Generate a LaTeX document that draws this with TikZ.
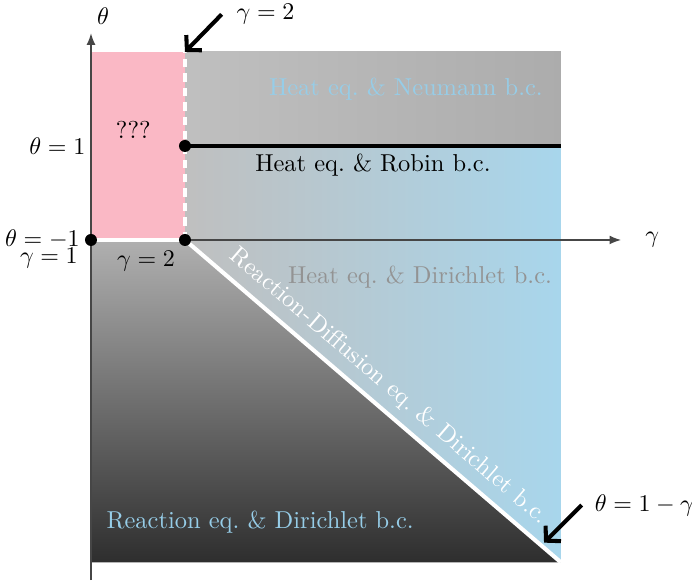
\documentclass[tikz,border=0pt]{standalone}
\usepackage{amsmath,amssymb}
\usepackage{tikz}
\usetikzlibrary{arrows.meta,positioning,calc}
\usepackage{xcolor}
\definecolor{cPink}{RGB}{250,184,197}
\definecolor{cSky}{RGB}{168,214,236}
\definecolor{cSkyTxt}{RGB}{150,205,232}
\definecolor{cAxis}{RGB}{70,70,70}
\tikzset{
  axisarr/.style={-{Latex[length=1.7mm,width=1.3mm]},color=cAxis,line width=0.6pt},
  bdline/.style={white,line width=1.7pt},
  bddash/.style={white,line width=1.7pt,dash pattern=on 3.5pt off 2.5pt},
  robline/.style={black,line width=1.7pt},
  dotnode/.style={circle,fill=black,inner sep=0pt,minimum size=5pt},
  calloutarr/.style={-{Straight Barb[length=1.5mm,width=3.2mm]},line width=1.7pt,black},
  regtxt/.style={inner sep=0pt}
}

\begin{document}
\begin{tikzpicture}[x=1.378cm,y=1.378cm,
    every node/.style={font=\fontsize{10.2}{12.2}\selectfont}]
  \useasboundingbox (-0.968,-3.638) rectangle (6.394,2.553);

  % regions
  \shade[left color=gray!50,right color=gray!65] (1,1) rectangle (5,2);
  \shade[left color=gray!50,right color=cSky] (1,1) -- (5,1) -- (5,-3.43) -- (1,0) -- cycle;
  \shade[top color=gray!62,bottom color=black!82] (0,0) -- (1,0) -- (5,-3.43) -- (0,-3.43) -- cycle;
  \fill[cPink] (0,0) rectangle (1,2);

  % axes
  \coordinate (O) at (0,0);
  \coordinate (gend) at (5.64,0);
  \coordinate (tbot) at (0,-3.62);
  \coordinate (tend) at (0,2.2);
  \draw[axisarr] (O) -- (gend);
  \draw[axisarr] (tbot) -- (tend);

  % boundaries
  \coordinate (g2) at (1,0);
  \coordinate (g2top) at (1,2);
  \coordinate (rob) at (1,1);
  \coordinate (robend) at (5,1);
  \coordinate (diagend) at (5,-3.43);
  \draw[bdline] (O) -- (g2);
  \draw[bdline] (g2) -- (diagend)
    node[pos=0.505,sloped,above,white,inner sep=3.5pt] (rdtxt)
    {Reaction-Diffusion eq.\ \& Dirichlet b.c.};
  \draw[bddash] (g2) -- (g2top);
  \draw[robline] (rob) -- (robend);

  \node[dotnode] (dO) at (O) {};
  \node[dotnode] (dg2) at (g2) {};
  \node[dotnode] (drob) at (rob) {};

  % axis labels
  \node (thlbl) at (0.13,2.38) {$\theta$};
  \node (galbl) at (5.97,0) {$\gamma$};
  \node[anchor=east,inner sep=1pt] (th1) at (-0.03,1) {$\theta=1$};
  \node[anchor=east,inner sep=1pt] (thm1) at (-0.09,0.01) {$\theta=-1$};
  \node[anchor=east,inner sep=1pt] (ga1) at (-0.11,-0.19) {$\gamma=1$};
  \node (ga2) at (0.585,-0.23) {$\gamma=2$};

  % region labels
  \node[regtxt] (unk) at (0.45,1.17) {???};
  \node[regtxt,cSkyTxt] (neu) at (3.35,1.61) {Heat eq.\ \& Neumann b.c.};
  \node[regtxt,black] (robtxt) at (3.0,0.8) {Heat eq.\ \& Robin b.c.};
  \node[regtxt,gray!85] (dirtxt) at (3.5,-0.39) {Heat eq.\ \& Dirichlet b.c.};
  \node[regtxt,cSkyTxt] (reatxt) at (1.8,-3.0) {Reaction eq.\ \& Dirichlet b.c.};

  % callouts
  \node[anchor=west,inner sep=1pt] (g2call) at (1.52,2.4) {$\gamma=2$};
  \coordinate (g2from) at (1.39,2.4);
  \draw[calloutarr] (g2from) -- (g2top);

  \node[anchor=west,inner sep=1pt] (diagcall) at (5.33,-2.82) {$\theta=1-\gamma$};
  \coordinate (dfrom) at (5.22,-2.82);
  \coordinate (dto) at (4.82,-3.22);
  \draw[calloutarr] (dfrom) -- (dto);

\end{tikzpicture}
\end{document}
